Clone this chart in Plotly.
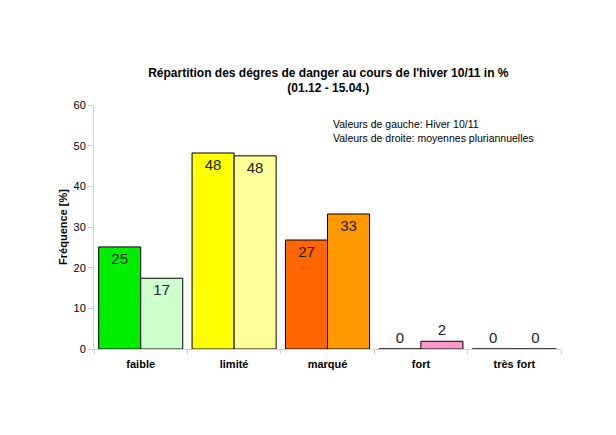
import plotly.graph_objects as go

categories = ['faible', 'limité', 'marqué', 'fort', 'très fort']
hiver_1011 = [25.1, 48.2, 26.8, 0, 0]
moyennes = [17.4, 47.5, 33.2, 1.9, 0]
labels_left = ['25', '48', '27', '0', '0']
labels_right = ['17', '48', '33', '2', '0']

colors_left = ['#00ee00', '#ffff00', '#ff6600', '#ff99cc', '#cc99ff']
colors_right = ['#ccffcc', '#ffff99', '#ff9900', '#ff99cc', '#cc99ff']
pos = ['inside', 'inside', 'inside', 'outside', 'outside']

fig = go.Figure()
fig.add_trace(go.Bar(x=categories, y=hiver_1011, text=labels_left, textposition=pos,
                     insidetextanchor='end', cliponaxis=False,
                     marker=dict(color=colors_left, line=dict(color='black', width=1))))
fig.add_trace(go.Bar(x=categories, y=moyennes, text=labels_right, textposition=pos,
                     insidetextanchor='end', cliponaxis=False,
                     marker=dict(color=colors_right, line=dict(color='black', width=1))))

fig.update_traces(textfont=dict(size=15, color='#222'), constraintext='none')

fig.update_layout(
    width=616, height=435,
    margin=dict(l=86, r=63, t=97, b=94),
    paper_bgcolor='white', plot_bgcolor='white',
    font=dict(family='Liberation Sans, Arial, sans-serif', color='black', size=11),
    showlegend=False,
    barmode='group', bargap=0.1, bargroupgap=0,
    title=dict(text='<b>Répartition des dégres de danger au cours de l\'hiver 10/11 in %<br>(01.12 - 15.04.)</b>',
               x=0.52, xanchor='center', y=0.842, yanchor='middle', font=dict(size=12)),
    xaxis=dict(showline=True, linecolor='#d0d0d0', ticks='outside', tickson='boundaries',
               tickcolor='#d0d0d0', ticklen=4, tickfont=dict(size=11), ticklabelstandoff=5,
               tickvals=categories, ticktext=['<b>%s</b>' % c for c in categories]),
    yaxis=dict(range=[0, 60], dtick=10, showgrid=False, showline=True, linecolor='#d0d0d0',
               ticks='outside', tickcolor='#d0d0d0', ticklen=5, zeroline=False,
               title=dict(text='<b>Fréquence [%]</b>', font=dict(size=11), standoff=3)),
    annotations=[dict(text='Valeurs de gauche: Hiver 10/11<br>Valeurs de droite: moyennes pluriannuelles',
                      xref='paper', yref='paper', x=0.507, y=0.953, xanchor='left', yanchor='top',
                      align='left', showarrow=False, font=dict(size=10.5))],
)

fig.write_html("out.html")
